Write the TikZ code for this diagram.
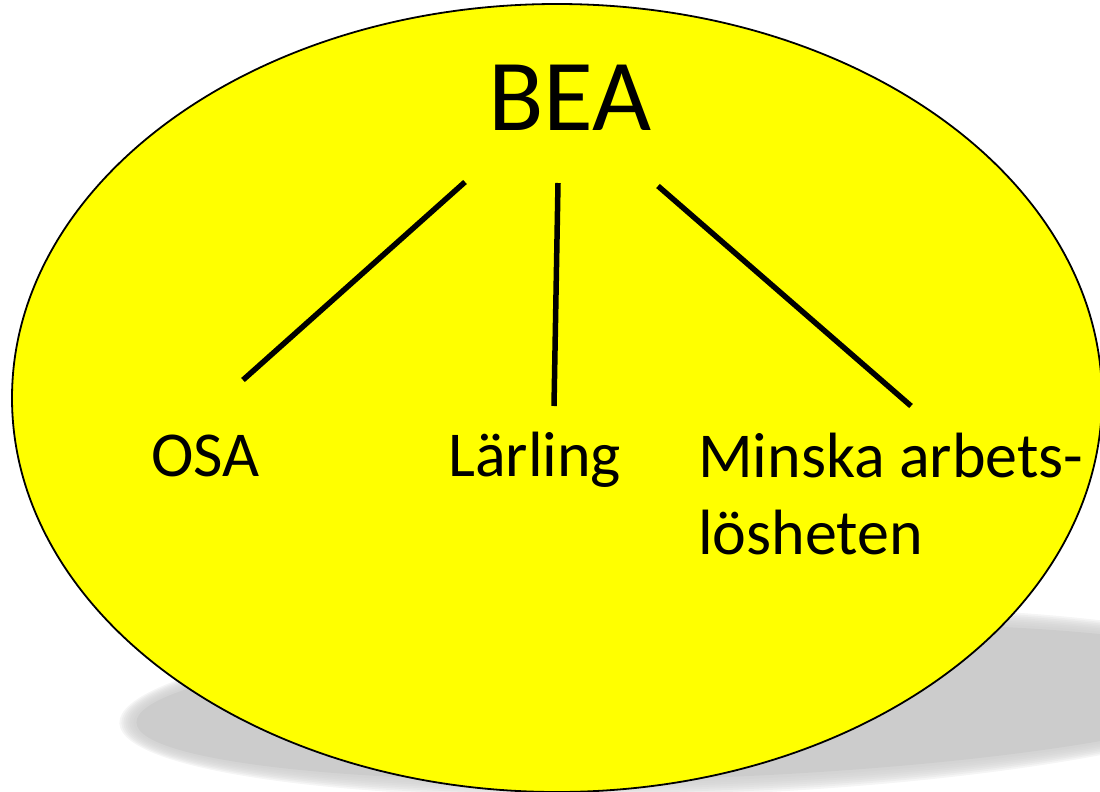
\documentclass[tikz,border=0pt]{standalone}
\usepackage{fontspec}
\setmainfont{Carlito}
\usetikzlibrary{shapes.geometric}
\definecolor{gul}{RGB}{255,255,0}
\begin{document}
\begin{tikzpicture}[x=1pt, y=-1pt]
	\useasboundingbox (0,0) rectangle (1100,792);
	\clip (0,0) rectangle (1100,792);

	% skugga
	\foreach \d in {8,6,...,-6}
		\fill[black!20, opacity=0.2, rotate around={2.1:(700,702)}] (700,702) ellipse ({573+\d} and {85+\d});
	\fill[black!20, rotate around={2.1:(700,702)}] (700,702) ellipse (564 and 76);

	\node[ellipse, draw, line width=1.8pt, fill=gul, minimum width=1090pt, minimum height=788pt, inner sep=0pt] (E) at (557,398) {};

	\node[anchor=base, font=\fontsize{102}{122}\selectfont] (BEA) at (570,130) {BEA};
	\node[anchor=base west, inner sep=0pt, font=\fontsize{64}{77}\selectfont] (OSA) at (151,476) {OSA};
	\node[anchor=base west, inner sep=0pt, font=\fontsize{64}{77}\selectfont] (L) at (448,476) {Lärling};
	\node[anchor=base west, inner sep=0pt, align=left, font=\fontsize{64}{77}\selectfont] (M) at (698,554) {Minska arbets-\\lösheten};

	\coordinate (B1) at (465,182);
	\coordinate (B2) at (558,183);
	\coordinate (B3) at (658,186);
	\coordinate (O1) at (243,380);
	\coordinate (L1) at (554,406);
	\coordinate (M1) at (911,406);

	\draw[line width=5.5pt] (B1) -- (O1);
	\draw[line width=5.5pt] (B2) -- (L1);
	\draw[line width=5.5pt] (B3) -- (M1);

\end{tikzpicture}
\end{document}
